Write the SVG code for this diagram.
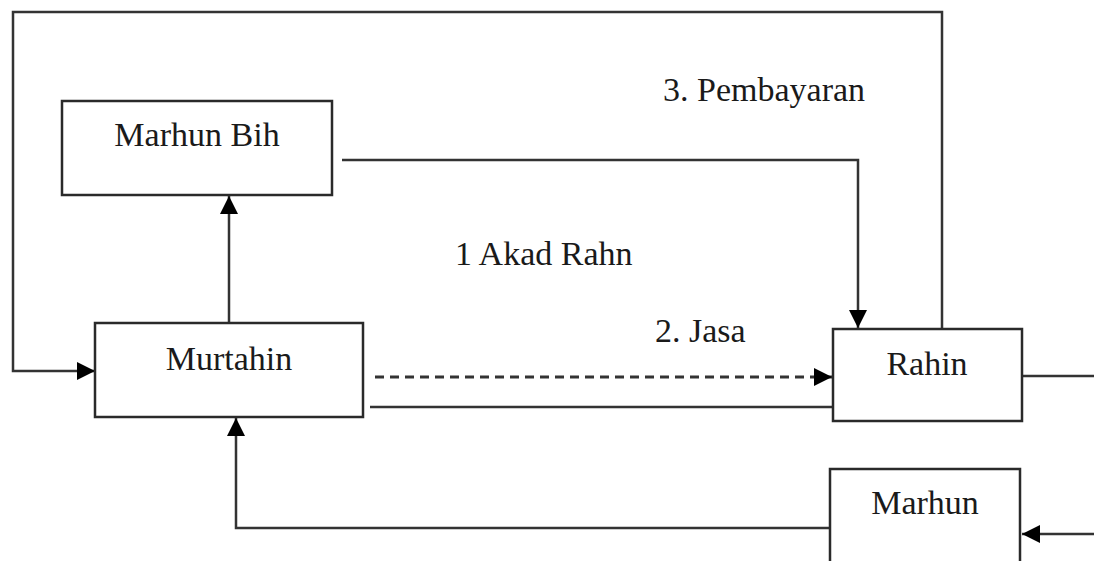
<svg xmlns="http://www.w3.org/2000/svg" width="1094" height="561" viewBox="0 0 1094 561">
  <style>
    .box { fill: #fff; stroke: #2a2a2a; stroke-width: 2.5; }
    .lbl { font-family: "Liberation Serif", "Times New Roman", serif; font-size: 34px; fill: #1a1a1a; }
    .ln { fill: none; stroke: #333; stroke-width: 2.5; }
    .arr { marker-end: url(#head); }
    .dash { stroke-dasharray: 9 6; stroke-width: 3; }
  </style>
  <defs>
    <marker id="head" markerUnits="userSpaceOnUse" markerWidth="20" markerHeight="20" refX="18" refY="10" orient="auto">
      <path d="M0,1 L18,10 L0,19 z" fill="#000"/>
    </marker>
  </defs>
  <rect width="1094" height="561" fill="#fff"/>

  <g id="connectors">
    <!-- payment loop: Rahin up, across the top, down and into Murtahin -->
    <polyline class="ln arr" points="942,330 942,12 13,12 13,371 95,371"/>
    <!-- Murtahin to Marhun Bih -->
    <line class="ln arr" x1="229" y1="323" x2="229" y2="196"/>
    <!-- Marhun Bih to Rahin -->
    <polyline class="ln arr" points="342,160 858,160 858,328"/>
    <!-- 2. Jasa (dashed) -->
    <line class="ln dash arr" x1="375" y1="377" x2="832" y2="377"/>
    <!-- akad line between Murtahin and Rahin -->
    <line class="ln" x1="370" y1="407" x2="833" y2="407"/>
    <!-- Rahin outgoing to the right -->
    <line class="ln" x1="1022" y1="376" x2="1094" y2="376"/>
    <!-- Marhun back to Murtahin -->
    <polyline class="ln arr" points="830,528 236,528 236,418"/>
    <!-- incoming to Marhun from the right -->
    <line class="ln arr" x1="1094" y1="534" x2="1022" y2="534"/>
  </g>

  <g id="marhun-bih">
    <rect class="box" x="62" y="101" width="270" height="94"/>
    <text class="lbl" x="197" y="146" text-anchor="middle">Marhun Bih</text>
  </g>

  <g id="murtahin">
    <rect class="box" x="95" y="323" width="268" height="94"/>
    <text class="lbl" x="229" y="370" text-anchor="middle">Murtahin</text>
  </g>

  <g id="rahin">
    <rect class="box" x="833" y="329" width="189" height="92"/>
    <text class="lbl" x="927" y="375" text-anchor="middle">Rahin</text>
  </g>

  <g id="marhun">
    <rect class="box" x="830" y="469" width="190" height="110"/>
    <text class="lbl" x="925" y="514" text-anchor="middle">Marhun</text>
  </g>

  <g id="labels">
    <text class="lbl" x="663" y="101">3. Pembayaran</text>
    <text class="lbl" x="455" y="265">1 Akad Rahn</text>
    <text class="lbl" x="655" y="342">2. Jasa</text>
  </g>
</svg>
